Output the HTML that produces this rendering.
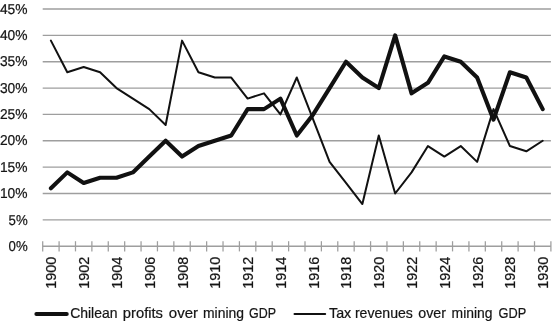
<!DOCTYPE html>
<html><head><meta charset="utf-8"><title>Chart</title>
<style>html,body{margin:0;padding:0;background:#fff}svg{display:block}text{font-family:"Liberation Sans",sans-serif;fill:#151515;stroke:#151515;stroke-width:0.22px}</style></head>
<body>
<svg width="553" height="323" viewBox="0 0 553 323">
<rect width="553" height="323" fill="#fff"/>
<g stroke="#9e9e9e" stroke-width="1.38" fill="none">
<line x1="42.7" y1="246.20" x2="550.9" y2="246.20"/>
<line x1="42.7" y1="219.84" x2="550.9" y2="219.84"/>
<line x1="42.7" y1="193.49" x2="550.9" y2="193.49"/>
<line x1="42.7" y1="167.13" x2="550.9" y2="167.13"/>
<line x1="42.7" y1="140.78" x2="550.9" y2="140.78"/>
<line x1="42.7" y1="114.42" x2="550.9" y2="114.42"/>
<line x1="42.7" y1="88.07" x2="550.9" y2="88.07"/>
<line x1="42.7" y1="61.71" x2="550.9" y2="61.71"/>
<line x1="42.7" y1="35.36" x2="550.9" y2="35.36"/>
<line x1="42.7" y1="9.00" x2="550.9" y2="9.00"/>
<line x1="42.70" y1="241.20" x2="42.70" y2="251.40" stroke-width="1.25"/>
<line x1="59.09" y1="241.20" x2="59.09" y2="251.40" stroke-width="1.25"/>
<line x1="75.49" y1="241.20" x2="75.49" y2="251.40" stroke-width="1.25"/>
<line x1="91.88" y1="241.20" x2="91.88" y2="251.40" stroke-width="1.25"/>
<line x1="108.27" y1="241.20" x2="108.27" y2="251.40" stroke-width="1.25"/>
<line x1="124.67" y1="241.20" x2="124.67" y2="251.40" stroke-width="1.25"/>
<line x1="141.06" y1="241.20" x2="141.06" y2="251.40" stroke-width="1.25"/>
<line x1="157.45" y1="241.20" x2="157.45" y2="251.40" stroke-width="1.25"/>
<line x1="173.85" y1="241.20" x2="173.85" y2="251.40" stroke-width="1.25"/>
<line x1="190.24" y1="241.20" x2="190.24" y2="251.40" stroke-width="1.25"/>
<line x1="206.64" y1="241.20" x2="206.64" y2="251.40" stroke-width="1.25"/>
<line x1="223.03" y1="241.20" x2="223.03" y2="251.40" stroke-width="1.25"/>
<line x1="239.42" y1="241.20" x2="239.42" y2="251.40" stroke-width="1.25"/>
<line x1="255.82" y1="241.20" x2="255.82" y2="251.40" stroke-width="1.25"/>
<line x1="272.21" y1="241.20" x2="272.21" y2="251.40" stroke-width="1.25"/>
<line x1="288.60" y1="241.20" x2="288.60" y2="251.40" stroke-width="1.25"/>
<line x1="305.00" y1="241.20" x2="305.00" y2="251.40" stroke-width="1.25"/>
<line x1="321.39" y1="241.20" x2="321.39" y2="251.40" stroke-width="1.25"/>
<line x1="337.78" y1="241.20" x2="337.78" y2="251.40" stroke-width="1.25"/>
<line x1="354.18" y1="241.20" x2="354.18" y2="251.40" stroke-width="1.25"/>
<line x1="370.57" y1="241.20" x2="370.57" y2="251.40" stroke-width="1.25"/>
<line x1="386.96" y1="241.20" x2="386.96" y2="251.40" stroke-width="1.25"/>
<line x1="403.36" y1="241.20" x2="403.36" y2="251.40" stroke-width="1.25"/>
<line x1="419.75" y1="241.20" x2="419.75" y2="251.40" stroke-width="1.25"/>
<line x1="436.15" y1="241.20" x2="436.15" y2="251.40" stroke-width="1.25"/>
<line x1="452.54" y1="241.20" x2="452.54" y2="251.40" stroke-width="1.25"/>
<line x1="468.93" y1="241.20" x2="468.93" y2="251.40" stroke-width="1.25"/>
<line x1="485.33" y1="241.20" x2="485.33" y2="251.40" stroke-width="1.25"/>
<line x1="501.72" y1="241.20" x2="501.72" y2="251.40" stroke-width="1.25"/>
<line x1="518.11" y1="241.20" x2="518.11" y2="251.40" stroke-width="1.25"/>
<line x1="534.51" y1="241.20" x2="534.51" y2="251.40" stroke-width="1.25"/>
<line x1="550.90" y1="241.20" x2="550.90" y2="251.40" stroke-width="1.25"/>
</g>
<g font-size="14.3" text-rendering="geometricPrecision">
<text transform="matrix(1,0.0005,0,1,8.6,250.90)" textLength="19.1" lengthAdjust="spacingAndGlyphs">0%</text>
<text transform="matrix(1,0.0005,0,1,8.6,224.54)" textLength="19.1" lengthAdjust="spacingAndGlyphs">5%</text>
<text transform="matrix(1,0.0005,0,1,-0.1,198.19)" textLength="27.6" lengthAdjust="spacingAndGlyphs">10%</text>
<text transform="matrix(1,0.0005,0,1,-0.1,171.83)" textLength="27.6" lengthAdjust="spacingAndGlyphs">15%</text>
<text transform="matrix(1,0.0005,0,1,-0.1,145.48)" textLength="27.6" lengthAdjust="spacingAndGlyphs">20%</text>
<text transform="matrix(1,0.0005,0,1,-0.1,119.12)" textLength="27.6" lengthAdjust="spacingAndGlyphs">25%</text>
<text transform="matrix(1,0.0005,0,1,-0.1,92.77)" textLength="27.6" lengthAdjust="spacingAndGlyphs">30%</text>
<text transform="matrix(1,0.0005,0,1,-0.1,66.41)" textLength="27.6" lengthAdjust="spacingAndGlyphs">35%</text>
<text transform="matrix(1,0.0005,0,1,-0.1,40.06)" textLength="27.6" lengthAdjust="spacingAndGlyphs">40%</text>
<text transform="matrix(1,0.0005,0,1,-0.1,13.70)" textLength="27.6" lengthAdjust="spacingAndGlyphs">45%</text>
</g>
<g font-size="15" style="stroke-width:0.1px">
<text transform="translate(56.35,256.8) rotate(-90)" x="-32" textLength="32" lengthAdjust="spacingAndGlyphs">1900</text>
<text transform="translate(89.13,256.8) rotate(-90)" x="-32" textLength="32" lengthAdjust="spacingAndGlyphs">1902</text>
<text transform="translate(121.92,256.8) rotate(-90)" x="-32" textLength="32" lengthAdjust="spacingAndGlyphs">1904</text>
<text transform="translate(154.71,256.8) rotate(-90)" x="-32" textLength="32" lengthAdjust="spacingAndGlyphs">1906</text>
<text transform="translate(187.50,256.8) rotate(-90)" x="-32" textLength="32" lengthAdjust="spacingAndGlyphs">1908</text>
<text transform="translate(220.28,256.8) rotate(-90)" x="-32" textLength="32" lengthAdjust="spacingAndGlyphs">1910</text>
<text transform="translate(253.07,256.8) rotate(-90)" x="-32" textLength="32" lengthAdjust="spacingAndGlyphs">1912</text>
<text transform="translate(285.86,256.8) rotate(-90)" x="-32" textLength="32" lengthAdjust="spacingAndGlyphs">1914</text>
<text transform="translate(318.64,256.8) rotate(-90)" x="-32" textLength="32" lengthAdjust="spacingAndGlyphs">1916</text>
<text transform="translate(351.43,256.8) rotate(-90)" x="-32" textLength="32" lengthAdjust="spacingAndGlyphs">1918</text>
<text transform="translate(384.22,256.8) rotate(-90)" x="-32" textLength="32" lengthAdjust="spacingAndGlyphs">1920</text>
<text transform="translate(417.00,256.8) rotate(-90)" x="-32" textLength="32" lengthAdjust="spacingAndGlyphs">1922</text>
<text transform="translate(449.79,256.8) rotate(-90)" x="-32" textLength="32" lengthAdjust="spacingAndGlyphs">1924</text>
<text transform="translate(482.58,256.8) rotate(-90)" x="-32" textLength="32" lengthAdjust="spacingAndGlyphs">1926</text>
<text transform="translate(515.37,256.8) rotate(-90)" x="-32" textLength="32" lengthAdjust="spacingAndGlyphs">1928</text>
<text transform="translate(548.15,256.8) rotate(-90)" x="-32" textLength="32" lengthAdjust="spacingAndGlyphs">1930</text>
</g>
<polyline points="50.90,40.63 67.29,72.25 83.68,66.98 100.08,72.25 116.47,88.07 132.86,98.61 149.26,109.15 165.65,124.96 182.05,40.63 198.44,72.25 214.83,77.52 231.23,77.52 247.62,98.61 264.01,93.34 280.41,114.42 296.80,77.52 313.19,119.69 329.59,161.86 345.98,182.95 362.37,204.03 378.77,135.51 395.16,193.49 411.55,172.40 427.95,146.05 444.34,156.59 460.74,146.05 477.13,161.86 493.52,109.15 509.92,146.05 526.31,151.32 542.70,140.78" fill="none" stroke="#111" stroke-width="2" stroke-linejoin="round" stroke-linecap="round"/>
<polyline points="50.90,188.22 67.29,172.40 83.68,182.95 100.08,177.68 116.47,177.68 132.86,172.40 149.26,156.59 165.65,140.78 182.05,156.59 198.44,146.05 214.83,140.78 231.23,135.51 247.62,109.15 264.01,109.15 280.41,98.61 296.80,135.51 313.19,114.42 329.59,88.07 345.98,61.71 362.37,77.52 378.77,88.07 395.16,35.36 411.55,93.34 427.95,82.80 444.34,56.44 460.74,61.71 477.13,77.52 493.52,119.69 509.92,72.25 526.31,77.52 542.70,109.15" fill="none" stroke="#111" stroke-width="4.1" stroke-linejoin="round" stroke-linecap="round"/>
<line x1="36.4" y1="314" x2="66.7" y2="314" stroke="#111" stroke-width="4.1" stroke-linecap="round"/>
<text x="70.2" y="318.2" font-size="15" textLength="47.3" lengthAdjust="spacingAndGlyphs">Chilean</text>
<text x="122.8" y="318.2" font-size="15" textLength="40.2" lengthAdjust="spacingAndGlyphs">profits</text>
<text x="168.8" y="318.2" font-size="15" textLength="29.2" lengthAdjust="spacingAndGlyphs">over</text>
<text x="203" y="318.2" font-size="15" textLength="41.0" lengthAdjust="spacingAndGlyphs">mining</text>
<text x="249" y="318.2" font-size="15" textLength="27.0" lengthAdjust="spacingAndGlyphs">GDP</text>
<line x1="294.5" y1="314" x2="325.2" y2="314" stroke="#111" stroke-width="2" stroke-linecap="round"/>
<text x="329" y="318.2" font-size="15" textLength="22.2" lengthAdjust="spacingAndGlyphs">Tax</text>
<text x="354.9" y="318.2" font-size="15" textLength="58.0" lengthAdjust="spacingAndGlyphs">revenues</text>
<text x="418.3" y="318.2" font-size="15" textLength="27.7" lengthAdjust="spacingAndGlyphs">over</text>
<text x="451.6" y="318.2" font-size="15" textLength="40.9" lengthAdjust="spacingAndGlyphs">mining</text>
<text x="498.5" y="318.2" font-size="15" textLength="27.7" lengthAdjust="spacingAndGlyphs">GDP</text>
</svg>
</body></html>
